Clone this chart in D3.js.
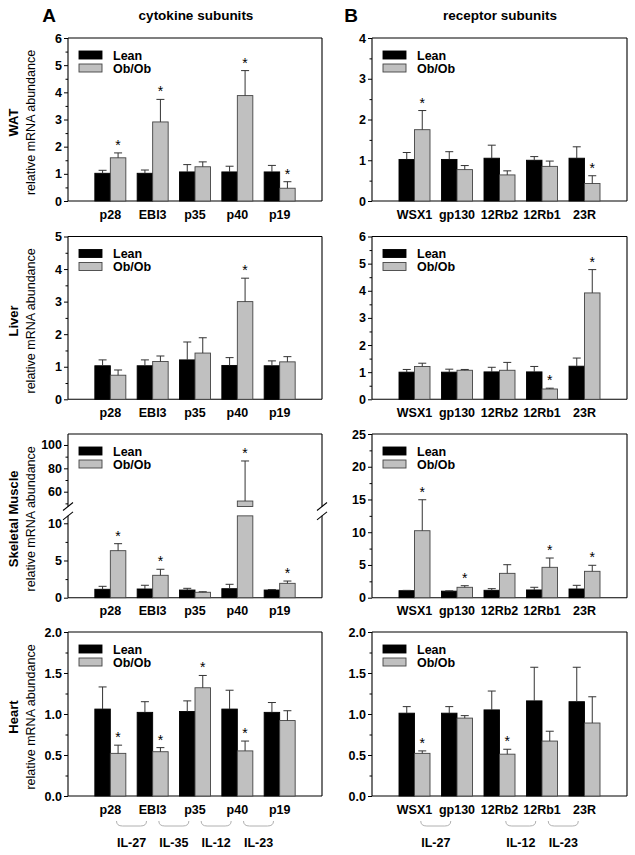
<!DOCTYPE html>
<html>
<head>
<meta charset="utf-8">
<script src="https://cdn.jsdelivr.net/npm/d3@7"></script>
<style>
  body { margin: 0; background: #fff; }
  svg { font-family: "Liberation Sans", Arial, sans-serif; }
</style>
</head>
<body>
<div id="fig"></div>
<script>
// categories
const cytokines = ["p28", "EBI3", "p35", "p40", "p19"];
const receptors = ["WSX1", "gp130", "12Rb2", "12Rb1", "23R"];
const series = ["Lean", "Ob/Ob"];

// WAT
const watCytLean = [1.02, 1.02, 1.07, 1.07, 1.07];
const watCytLeanSem = [0.11, 0.12, 0.27, 0.21, 0.24];
const watCytOb = [1.59, 2.91, 1.26, 3.88, 0.47];
const watCytObSem = [0.18, 0.83, 0.18, 0.92, 0.24];
const watCytStar = [1, 1, 0, 1, 1];
const watRecLean = [1.02, 1.02, 1.05, 1.0, 1.05];
const watRecLeanSem = [0.17, 0.19, 0.32, 0.09, 0.28];
const watRecOb = [1.75, 0.77, 0.64, 0.85, 0.43];
const watRecObSem = [0.47, 0.10, 0.10, 0.13, 0.19];
const watRecStar = [1, 0, 0, 0, 1];

// Liver
const livCytLean = [1.03, 1.03, 1.21, 1.04, 1.03];
const livCytLeanSem = [0.18, 0.18, 0.55, 0.24, 0.15];
const livCytOb = [0.74, 1.16, 1.42, 3.0, 1.15];
const livCytObSem = [0.16, 0.17, 0.47, 0.72, 0.16];
const livCytStar = [0, 0, 0, 1, 0];
const livRecLean = [1.0, 1.0, 1.01, 1.01, 1.22];
const livRecLeanSem = [0.10, 0.11, 0.17, 0.20, 0.30];
const livRecOb = [1.21, 1.07, 1.07, 0.38, 3.92];
const livRecObSem = [0.12, 0.03, 0.29, 0.03, 0.86];
const livRecStar = [0, 0, 0, 1, 1];

// Skeletal muscle
const skmCytLean = [1.13, 1.17, 1.03, 1.21, 1.03];
const skmCytLeanSem = [0.40, 0.50, 0.23, 0.59, 0.07];
const skmCytOb = [6.32, 3.01, 0.73, 52, 1.93];
const skmCytObSem = [0.94, 0.81, 0.07, 34.3, 0.31];
const skmCytStar = [1, 1, 0, 1, 1];
const skmRecLean = [1.07, 1.0, 1.13, 1.18, 1.33];
const skmRecLeanSem = [0.05, 0.05, 0.25, 0.41, 0.56];
const skmRecOb = [10.23, 1.59, 3.72, 4.64, 4.03];
const skmRecObSem = [4.73, 0.24, 1.32, 1.42, 0.92];
const skmRecStar = [1, 1, 0, 1, 1];

// Heart
const hrtCytLean = [1.06, 1.02, 1.03, 1.06, 1.02];
const hrtCytLeanSem = [0.27, 0.13, 0.13, 0.23, 0.12];
const hrtCytOb = [0.52, 0.54, 1.32, 0.55, 0.92];
const hrtCytObSem = [0.10, 0.05, 0.15, 0.12, 0.12];
const hrtCytStar = [1, 1, 1, 1, 0];
const hrtRecLean = [1.01, 1.01, 1.05, 1.16, 1.15];
const hrtRecLeanSem = [0.08, 0.08, 0.23, 0.41, 0.42];
const hrtRecOb = [0.52, 0.95, 0.51, 0.67, 0.89];
const hrtRecObSem = [0.03, 0.03, 0.06, 0.12, 0.32];
const hrtRecStar = [1, 0, 1, 0, 0];

// tick labels
const ticks0to6 = [0, 1, 2, 3, 4, 5, 6];
const ticks0to5 = [0, 1, 2, 3, 4, 5];
const ticks0to4 = [0, 1, 2, 3, 4];
const skmLowTicks = [0, 5, 10];
const skmHighTicks = [60, 80, 100];
const skmRecTicks = [0, 5, 10, 15, 20, 25];
const heartTicks = [0, 0.5, 1.0, 1.5, 2.0];

// heterodimer groupings
const cytPairs = [["p28", "EBI3", "IL-27"], ["EBI3", "p35", "IL-35"], ["p35", "p40", "IL-12"], ["p40", "p19", "IL-23"]];
const recPairs = [["WSX1", "gp130", "IL-27"], ["12Rb2", "12Rb1", "IL-12"], ["12Rb1", "23R", "IL-23"]];

const width = 635, height = 855;
const colors = { "Lean": "#000", "Ob/Ob": "#c0c0c0" };
const barW = 15.5;

const svg = d3.select("#fig").append("svg")
    .attr("width", width)
    .attr("height", height);

const cols = [
    { x0: 68, x1: 322, cats: cytokines, pairs: cytPairs },
    { x0: 372, x1: 627, cats: receptors, pairs: recPairs }
];
const rows = [
    { y0: 38, y1: 201, name: "WAT" },
    { y0: 236.5, y1: 399.3, name: "Liver" },
    { y0: 434, y1: 597.7, name: "Skeletal Muscle" },
    { y0: 632, y1: 796, name: "Heart" }
];

const one = (dom, ticks) => [{ domain: dom, frac: [0, 1], ticks: ticks }];

const panels = [
    { row: 0, col: 0, lean: watCytLean, leanSem: watCytLeanSem, ob: watCytOb, obSem: watCytObSem, star: watCytStar, segs: one([0, 6], ticks0to6), fmt: d3.format("d") },
    { row: 0, col: 1, lean: watRecLean, leanSem: watRecLeanSem, ob: watRecOb, obSem: watRecObSem, star: watRecStar, segs: one([0, 4], ticks0to4), fmt: d3.format("d") },
    { row: 1, col: 0, lean: livCytLean, leanSem: livCytLeanSem, ob: livCytOb, obSem: livCytObSem, star: livCytStar, segs: one([0, 5], ticks0to5), fmt: d3.format("d") },
    { row: 1, col: 1, lean: livRecLean, leanSem: livRecLeanSem, ob: livRecOb, obSem: livRecObSem, star: livRecStar, segs: one([0, 6], ticks0to6), fmt: d3.format("d") },
    { row: 2, col: 0, lean: skmCytLean, leanSem: skmCytLeanSem, ob: skmCytOb, obSem: skmCytObSem, star: skmCytStar,
      segs: [{ domain: [0, 11], frac: [0, 0.5], ticks: skmLowTicks }, { domain: [47.3, 109.4], frac: [0.557, 1], ticks: skmHighTicks }],
      fmt: d3.format("d") },
    { row: 2, col: 1, lean: skmRecLean, leanSem: skmRecLeanSem, ob: skmRecOb, obSem: skmRecObSem, star: skmRecStar, segs: one([0, 25], skmRecTicks), fmt: d3.format("d") },
    { row: 3, col: 0, lean: hrtCytLean, leanSem: hrtCytLeanSem, ob: hrtCytOb, obSem: hrtCytObSem, star: hrtCytStar, segs: one([0, 2], heartTicks), fmt: d3.format(".1f") },
    { row: 3, col: 1, lean: hrtRecLean, leanSem: hrtRecLeanSem, ob: hrtRecOb, obSem: hrtRecObSem, star: hrtRecStar, segs: one([0, 2], heartTicks), fmt: d3.format(".1f") }
];

function drawPanel(p) {
    const col = cols[p.col], row = rows[p.row];
    const H = row.y1 - row.y0;
    const g = svg.append("g");

    const x = d3.scalePoint().domain(col.cats).range([col.x0, col.x1]).padding(1);
    const segs = p.segs.map(s => Object.assign({}, s, {
        y: d3.scaleLinear().domain(s.domain).range([row.y1 - s.frac[0] * H, row.y1 - s.frac[1] * H])
    }));

    // y axis ticks (major + minor), per segment
    segs.forEach(s => {
        const step = s.ticks[1] - s.ticks[0];
        const minors = d3.range(Math.ceil(s.domain[0] / (step / 2)) * step / 2, s.domain[1] + 1e-9, step / 2)
            .filter(v => !s.ticks.some(t => Math.abs(t - v) < 1e-9));
        g.append("g")
            .attr("transform", `translate(${col.x0},0)`)
            .call(d3.axisLeft(s.y).tickValues(minors).tickSize(2.5).tickFormat(""))
            .call(a => a.select(".domain").remove());
        g.append("g")
            .attr("transform", `translate(${col.x0},0)`)
            .call(d3.axisLeft(s.y).tickValues(s.ticks).tickSize(4).tickPadding(2).tickFormat(p.fmt))
            .call(a => a.select(".domain").remove())
            .call(a => a.selectAll("text")
                .attr("fill", "#000")
                .style("font-size", "12.5px")
                .style("font-weight", "bold"));
    });
    g.selectAll(".tick line").attr("stroke", "#000");

    // frame
    const frame = g.append("g").attr("stroke", "#000").attr("stroke-width", 1.1).attr("fill", "none");
    frame.append("line").attr("x1", col.x0).attr("x2", col.x1).attr("y1", row.y0).attr("y2", row.y0);
    frame.append("line").attr("x1", col.x0).attr("x2", col.x1).attr("y1", row.y1).attr("y2", row.y1);
    segs.forEach(s => {
        [col.x0, col.x1].forEach(xx => {
            frame.append("line").attr("x1", xx).attr("x2", xx)
                .attr("y1", s.y(s.domain[0])).attr("y2", s.y(s.domain[1]));
        });
    });
    // break marks
    for (let k = 1; k < segs.length; k++) {
        const yb = [segs[k - 1].y(segs[k - 1].domain[1]), segs[k].y(segs[k].domain[0])];
        [col.x0, col.x1].forEach(xx => {
            yb.forEach(yy => {
                frame.append("line")
                    .attr("x1", xx - 5).attr("y1", yy + 4)
                    .attr("x2", xx + 5).attr("y2", yy - 4);
            });
        });
    }

    // bars
    const vals = { "Lean": [p.lean, p.leanSem], "Ob/Ob": [p.ob, p.obSem] };
    col.cats.forEach((c, i) => {
        series.forEach((sName, si) => {
            const v = vals[sName][0][i], e = vals[sName][1][i];
            const bx = x(c) + (si === 0 ? -barW : 0);
            segs.forEach(s => {
                if (v <= s.domain[0]) return;
                const top = Math.min(v, s.domain[1]);
                g.append("rect")
                    .attr("x", bx)
                    .attr("y", s.y(top))
                    .attr("width", barW)
                    .attr("height", s.y(s.domain[0]) - s.y(top))
                    .attr("fill", colors[sName])
                    .attr("stroke", si === 0 ? "#000" : "#444")
                    .attr("stroke-width", 0.9);
            });
            const seg = segs.find(s => v >= s.domain[0] && v <= s.domain[1]) || segs[segs.length - 1];
            const cx = bx + barW / 2;
            const yTop = seg.y(v + e), yBar = seg.y(v);
            g.append("line").attr("x1", cx).attr("x2", cx).attr("y1", yBar).attr("y2", yTop)
                .attr("stroke", "#333").attr("stroke-width", 1);
            g.append("line").attr("x1", cx - 4).attr("x2", cx + 4).attr("y1", yTop).attr("y2", yTop)
                .attr("stroke", "#333").attr("stroke-width", 1);
            if (si === 1 && p.star[i]) {
                g.append("text")
                    .attr("x", cx)
                    .attr("y", yTop - 3)
                    .attr("text-anchor", "middle")
                    .style("font-size", "14px")
                    .text("*");
            }
        });
    });

    // category labels
    col.cats.forEach(c => {
        g.append("text")
            .attr("x", x(c))
            .attr("y", row.y1 + 17.5)
            .attr("text-anchor", "middle")
            .style("font-size", "12.5px")
            .style("font-weight", "bold")
            .text(c);
    });

    // legend
    const leg = g.append("g").attr("transform", `translate(${col.x0 + 11},${row.y0 + 13})`);
    series.forEach((sName, si) => {
        leg.append("rect")
            .attr("x", 0).attr("y", si * 13)
            .attr("width", 23).attr("height", 8)
            .attr("fill", colors[sName])
            .attr("stroke", si === 0 ? "#000" : "#444")
            .attr("stroke-width", 0.9);
        leg.append("text")
            .attr("x", 34).attr("y", si * 13 + 8.5)
            .style("font-size", "12.5px")
            .style("font-weight", "bold")
            .text(sName);
    });

    // heterodimer brackets under the bottom row
    if (p.row === 3) {
        col.pairs.forEach(pr => {
            const mid = (x(pr[0]) + x(pr[1])) / 2;
            const xa = mid - 15, xb = mid + 15, yy = 821;
            g.append("path")
                .attr("d", `M${xa},${yy} Q${xa},${yy + 5} ${xa + 6},${yy + 5} L${xb - 6},${yy + 5} Q${xb},${yy + 5} ${xb},${yy}`)
                .attr("fill", "none")
                .attr("stroke", "#b0b0b0")
                .attr("stroke-width", 1);
            g.append("text")
                .attr("x", mid)
                .attr("y", 846.5)
                .attr("text-anchor", "middle")
                .style("font-size", "12.5px")
                .style("font-weight", "bold")
                .text(pr[2]);
        });
    }
}

panels.forEach(drawPanel);

// row titles (y axis)
rows.forEach(r => {
    const cy = (r.y0 + r.y1) / 2 + 3;
    svg.append("text")
        .attr("transform", `translate(18,${cy}) rotate(-90)`)
        .attr("text-anchor", "middle")
        .style("font-size", "13px")
        .style("font-weight", "bold")
        .text(r.name);
    svg.append("text")
        .attr("transform", `translate(35,${cy}) rotate(-90)`)
        .attr("text-anchor", "middle")
        .style("font-size", "12.5px")
        .text("relative mRNA abundance");
});

// column headers
[["A", 49, "cytokine subunits", 196], ["B", 351, "receptor subunits", 500]].forEach(h => {
    svg.append("text")
        .attr("x", h[1]).attr("y", 22)
        .attr("text-anchor", "middle")
        .style("font-size", "19px")
        .style("font-weight", "bold")
        .text(h[0]);
    svg.append("text")
        .attr("x", h[3]).attr("y", 20)
        .attr("text-anchor", "middle")
        .style("font-size", "13.5px")
        .style("font-weight", "bold")
        .text(h[2]);
});
</script>
</body>
</html>
